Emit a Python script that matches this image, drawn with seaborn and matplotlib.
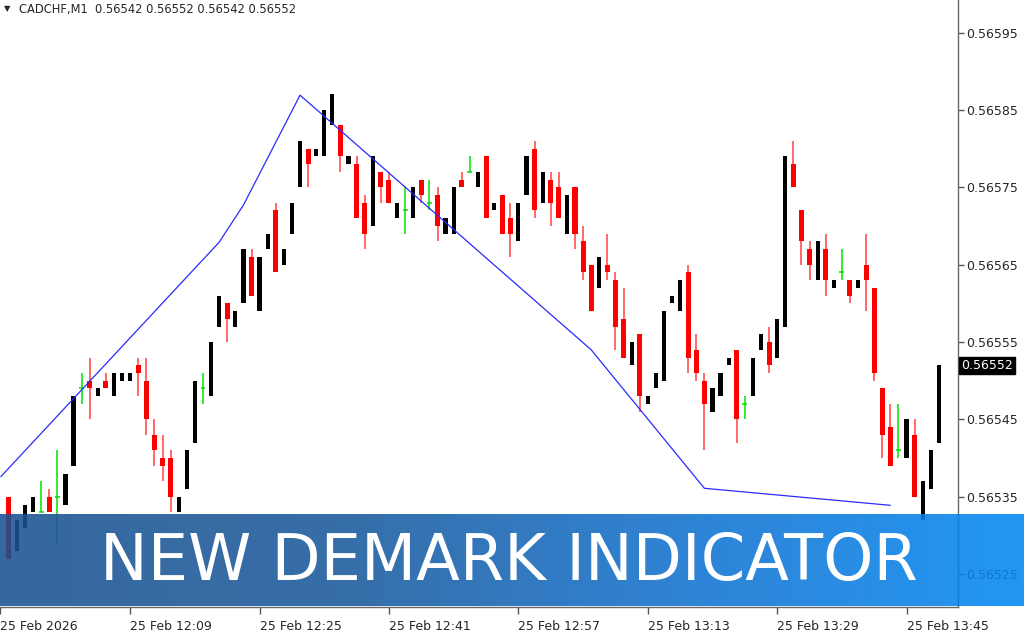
import numpy as np
import pandas as pd
import matplotlib
matplotlib.use("Agg")
import matplotlib.pyplot as plt
import seaborn as sns
from matplotlib.colors import LinearSegmentedColormap

# CADCHF M1 candles, 11:54 .. 13:49
opens = [0.56535, 0.56528, 0.56531, 0.56533, 0.56533, 0.56535, 0.56535, 0.56534, 0.56539, 0.56549,
         0.56550, 0.56548, 0.56550, 0.56548, 0.56550, 0.56550, 0.56552, 0.56550, 0.56543, 0.56540,
         0.56540, 0.56533, 0.56536, 0.56542, 0.56549, 0.56548, 0.56557, 0.56560, 0.56557, 0.56560,
         0.56566, 0.56559, 0.56567, 0.56572, 0.56565, 0.56569, 0.56575, 0.56580, 0.56579, 0.56579,
         0.56583, 0.56583, 0.56578, 0.56578, 0.56573, 0.56570, 0.56577, 0.56576, 0.56571, 0.56572,
         0.56571, 0.56576, 0.56573, 0.56574, 0.56569, 0.56569, 0.56576, 0.56577, 0.56575, 0.56579,
         0.56572, 0.56574, 0.56571, 0.56568, 0.56574, 0.56580, 0.56573, 0.56576, 0.56575, 0.56569,
         0.56575, 0.56568, 0.56565, 0.56562, 0.56565, 0.56563, 0.56558, 0.56552, 0.56556, 0.56547,
         0.56549, 0.56550, 0.56560, 0.56559, 0.56564, 0.56554, 0.56550, 0.56546, 0.56548, 0.56552,
         0.56554, 0.56547, 0.56548, 0.56554, 0.56555, 0.56553, 0.56557, 0.56578, 0.56572, 0.56567,
         0.56563, 0.56567, 0.56562, 0.56564, 0.56563, 0.56562, 0.56565, 0.56562, 0.56549, 0.56544,
         0.56541, 0.56540, 0.56543, 0.56532, 0.56536, 0.56542]
highs = [0.56535, 0.56532, 0.56534, 0.56535, 0.56537, 0.56536, 0.56541, 0.56538, 0.56548, 0.56551,
         0.56553, 0.56549, 0.56551, 0.56551, 0.56551, 0.56551, 0.56553, 0.56553, 0.56545, 0.56543,
         0.56541, 0.56535, 0.56541, 0.56550, 0.56551, 0.56555, 0.56561, 0.56560, 0.56559, 0.56567,
         0.56567, 0.56566, 0.56569, 0.56573, 0.56567, 0.56573, 0.56581, 0.56580, 0.56580, 0.56585,
         0.56587, 0.56583, 0.56579, 0.56579, 0.56574, 0.56579, 0.56577, 0.56577, 0.56573, 0.56575,
         0.56575, 0.56576, 0.56576, 0.56575, 0.56571, 0.56575, 0.56577, 0.56579, 0.56577, 0.56579,
         0.56573, 0.56574, 0.56573, 0.56573, 0.56579, 0.56581, 0.56577, 0.56577, 0.56577, 0.56574,
         0.56575, 0.56570, 0.56565, 0.56566, 0.56569, 0.56564, 0.56562, 0.56555, 0.56556, 0.56548,
         0.56551, 0.56559, 0.56561, 0.56563, 0.56565, 0.56556, 0.56551, 0.56549, 0.56551, 0.56553,
         0.56554, 0.56548, 0.56553, 0.56556, 0.56557, 0.56558, 0.56579, 0.56581, 0.56572, 0.56568,
         0.56568, 0.56569, 0.56563, 0.56567, 0.56563, 0.56563, 0.56569, 0.56562, 0.56549, 0.56547,
         0.56547, 0.56545, 0.56545, 0.56537, 0.56541, 0.56552]
lows = [0.56527, 0.56528, 0.56531, 0.56533, 0.56533, 0.56533, 0.56529, 0.56534, 0.56539, 0.56547,
        0.56545, 0.56548, 0.56549, 0.56548, 0.56550, 0.56550, 0.56548, 0.56543, 0.56539, 0.56537,
        0.56533, 0.56533, 0.56536, 0.56542, 0.56547, 0.56548, 0.56557, 0.56555, 0.56557, 0.56560,
        0.56561, 0.56559, 0.56567, 0.56564, 0.56565, 0.56569, 0.56575, 0.56575, 0.56579, 0.56579,
        0.56583, 0.56577, 0.56578, 0.56571, 0.56567, 0.56570, 0.56573, 0.56573, 0.56571, 0.56569,
        0.56571, 0.56573, 0.56572, 0.56568, 0.56569, 0.56569, 0.56575, 0.56577, 0.56575, 0.56571,
        0.56572, 0.56569, 0.56566, 0.56568, 0.56574, 0.56571, 0.56573, 0.56570, 0.56571, 0.56569,
        0.56567, 0.56563, 0.56559, 0.56562, 0.56563, 0.56554, 0.56553, 0.56552, 0.56546, 0.56547,
        0.56549, 0.56550, 0.56560, 0.56559, 0.56551, 0.56550, 0.56541, 0.56546, 0.56548, 0.56552,
        0.56542, 0.56545, 0.56548, 0.56554, 0.56551, 0.56553, 0.56557, 0.56575, 0.56565, 0.56563,
        0.56563, 0.56561, 0.56562, 0.56563, 0.56560, 0.56562, 0.56559, 0.56550, 0.56540, 0.56539,
        0.56540, 0.56540, 0.56535, 0.56532, 0.56536, 0.56542]
closes = [0.56527, 0.56532, 0.56534, 0.56535, 0.56533, 0.56533, 0.56535, 0.56538, 0.56548, 0.56549,
          0.56549, 0.56549, 0.56549, 0.56551, 0.56551, 0.56551, 0.56551, 0.56545, 0.56541, 0.56539,
          0.56535, 0.56535, 0.56541, 0.56550, 0.56549, 0.56555, 0.56561, 0.56558, 0.56559, 0.56567,
          0.56561, 0.56566, 0.56569, 0.56564, 0.56567, 0.56573, 0.56581, 0.56578, 0.56580, 0.56585,
          0.56587, 0.56579, 0.56579, 0.56571, 0.56569, 0.56579, 0.56575, 0.56573, 0.56573, 0.56572,
          0.56575, 0.56574, 0.56573, 0.56570, 0.56571, 0.56575, 0.56575, 0.56577, 0.56577, 0.56571,
          0.56573, 0.56569, 0.56569, 0.56573, 0.56579, 0.56572, 0.56577, 0.56573, 0.56571, 0.56574,
          0.56569, 0.56564, 0.56559, 0.56566, 0.56564, 0.56557, 0.56553, 0.56555, 0.56548, 0.56548,
          0.56551, 0.56559, 0.56561, 0.56563, 0.56553, 0.56551, 0.56547, 0.56549, 0.56551, 0.56553,
          0.56545, 0.56547, 0.56553, 0.56556, 0.56552, 0.56558, 0.56579, 0.56575, 0.56568, 0.56565,
          0.56568, 0.56563, 0.56563, 0.56564, 0.56561, 0.56563, 0.56563, 0.56551, 0.56543, 0.56539,
          0.56541, 0.56545, 0.56535, 0.56537, 0.56541, 0.56552]

# DeMark line vertices (bar index, price)
demark_bars = [-1, 26, 29, 36, 72, 86, 109]
demark_vals = [0.565376, 0.565679, 0.565727, 0.565869, 0.565540, 0.565361, 0.565339]

tick_bars = [-1.1, 15, 31, 47, 63, 79, 95, 111]
tick_labels = ["25 Feb 2026", "25 Feb 12:09", "25 Feb 12:25", "25 Feb 12:41",
               "25 Feb 12:57", "25 Feb 13:13", "25 Feb 13:29", "25 Feb 13:45"]
price_ticks = [0.56525, 0.56535, 0.56545, 0.56555, 0.56565, 0.56575, 0.56585, 0.56595]

df = pd.DataFrame({"bar": np.arange(len(opens)), "open": opens, "high": highs,
                   "low": lows, "close": closes})
up = df[df.close > df.open]
down = df[df.close < df.open]
doji = df[df.close == df.open]

sns.set_style("white")
plt.rcParams["font.family"] = ["DejaVu Sans"]

fig = plt.figure(figsize=(10.24, 6.4), dpi=100)
ax = fig.add_axes([0, 33 / 640, 958 / 1024, 607 / 640])

# candles
ax.vlines(down.bar, down.low, down.high, color="#ff4040", lw=1.1, zorder=2)
ax.bar(down.bar, down.open - down.close, bottom=down.close, width=0.62,
       color="#ff0000", linewidth=0, zorder=3)
ax.vlines(up.bar, up.low, up.high, color="black", lw=1.1, zorder=2)
ax.bar(up.bar, up.close - up.open, bottom=up.open, width=0.52,
       color="black", linewidth=0, zorder=3)
ax.vlines(doji.bar, doji.low, doji.high, color="#00e000", lw=1.1, zorder=2)
ax.hlines(doji.open, doji.bar - 0.3, doji.bar + 0.3, color="#00e000", lw=1.1, zorder=3)

sns.lineplot(x=demark_bars, y=demark_vals, ax=ax, color="#2a2aff", lw=0.9, zorder=4)

ax.set_xlim(-0.616, 117.36)
ax.set_ylim(0.5652076, 0.565992)

ax.yaxis.tick_right()
ax.set_yticks(price_ticks)
ax.set_yticklabels([f"{p:.5f}" for p in price_ticks])
ax.set_xticks(tick_bars)
ax.set_xticklabels(tick_labels, ha="left")
ax.tick_params(axis="y", direction="out", length=4, width=1, color="#555555",
               labelsize=9, pad=1.5, right=True, left=False)
ax.tick_params(axis="x", direction="out", length=5, width=1, color="#555555",
               labelsize=9, pad=4, bottom=True)
for s in ["top", "left"]:
    ax.spines[s].set_visible(False)
for s in ["right", "bottom"]:
    ax.spines[s].set_color("#666666")
    ax.spines[s].set_linewidth(1)

# current price tag
ax.annotate("0.56552", xy=(1, closes[-1]), xycoords=ax.get_yaxis_transform(),
            xytext=(2.5, 0), textcoords="offset points", va="center", ha="left",
            color="white", fontsize=9, annotation_clip=False,
            bbox=dict(boxstyle="square,pad=0.18", fc="black", ec="black"))

# header text
fig.text(4 / 1024, 1 - 9 / 640, "\u25bc", fontsize=6, va="center", ha="left")
fig.text(19 / 1024, 1 - 9 / 640, "CADCHF,M1  0.56542 0.56552 0.56542 0.56552",
         fontsize=8.3, va="center", ha="left")

# banner
bax = fig.add_axes([0, 34 / 640, 1, 92 / 640], zorder=10)
cmap = LinearSegmentedColormap.from_list("banner", ["#1a5292", "#1a5a9c", "#1272cf", "#0388f1"])
bax.imshow(np.linspace(0, 1, 256).reshape(1, -1), aspect="auto", cmap=cmap,
           alpha=0.88, extent=[0, 1, 0, 1])
bax.axis("off")
bax.text(509 / 1024, 26 / 92, "NEW DEMARK INDICATOR", color="white",
         family=["DejaVu Sans"], fontsize=46, ha="center", va="baseline",
         transform=bax.transAxes)

fig.savefig("out.png", dpi=100)
